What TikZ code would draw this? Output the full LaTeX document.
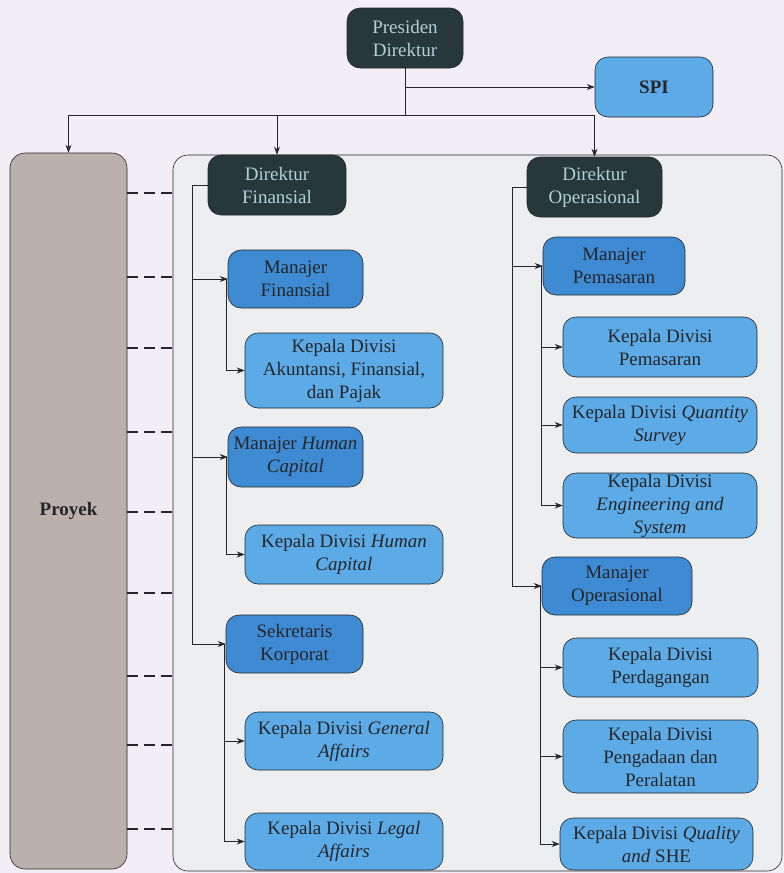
\documentclass[tikz,border=0pt]{standalone}
\usepackage{fontspec}
\setmainfont{Liberation Serif}
\usetikzlibrary{arrows.meta}
\definecolor{bgc}{RGB}{243,238,245}
\definecolor{dark}{RGB}{39,56,59}
\definecolor{darktext}{RGB}{176,208,212}
\definecolor{midblue}{RGB}{62,139,211}
\definecolor{lightblue}{RGB}{92,170,230}
\definecolor{proyekc}{RGB}{186,176,172}
\definecolor{unitc}{RGB}{236,238,240}
\definecolor{ink}{RGB}{38,38,42}

\tikzset{
  box/.style={rounded corners=13pt, draw=ink, line width=0.6pt, align=center, inner sep=0pt, font=\fontsize{19}{23}\selectfont, text=ink},
  topbox/.style={box, fill=dark, text=darktext},
  manbox/.style={box, fill=midblue},
  divbox/.style={box, fill=lightblue},
  wire/.style={draw=ink, line width=0.7pt},
  arr/.style={wire, -{Stealth[length=8pt,width=6pt]}},
  dash link/.style={draw=ink, line width=2.6pt, dash pattern=on 11pt off 6pt},
}

\begin{document}
\begin{tikzpicture}
\fill [bgc] (0pt,0pt) rectangle (784pt,-873pt);
\useasboundingbox (0pt,0pt) rectangle (784pt,-873pt);
% background blocks
\node (unit) [rounded corners=15pt, draw=ink, line width=0.6pt, fill=unitc, minimum width=609pt, minimum height=716pt] at (477.5pt, -513pt) {};
\node (proyek) [box, rounded corners=15pt, fill=proyekc, minimum width=117pt, minimum height=716pt, font=\fontsize{19}{23}\selectfont\bfseries] at (68.5pt, -511pt) {Proyek};
% top level
\node (pd) [topbox, minimum width=116pt, minimum height=60pt] at (405pt, -38pt) {Presiden\\Direktur};
\node (spi) [divbox, minimum width=118pt, minimum height=60pt, font=\fontsize{19}{23}\selectfont\bfseries] at (654pt, -87pt) {SPI};
\node (df) [topbox, minimum width=138pt, minimum height=60pt] at (277pt, -185pt) {Direktur\\Finansial};
\node (do) [topbox, minimum width=135pt, minimum height=60pt] at (594.5pt, -187pt) {Direktur\\Operasional};
% finansial
\node (mf) [manbox, minimum width=135pt, minimum height=58pt] at (295.5pt, -279pt) {Manajer\\Finansial};
\node (kda) [divbox, minimum width=198pt, minimum height=75pt] at (344pt, -370.5pt) {Kepala Divisi\\Akuntansi, Finansial,\\dan Pajak};
\node (mhc) [manbox, minimum width=135pt, minimum height=60pt] at (295.5pt, -457pt) {Manajer \textit{Human}\\\textit{Capital}};
\node (kdhc) [divbox, minimum width=198pt, minimum height=59pt] at (344pt, -554.5pt) {Kepala Divisi \textit{Human}\\\textit{Capital}};
\node (sk) [manbox, minimum width=137pt, minimum height=58pt] at (294.5pt, -644pt) {Sekretaris\\Korporat};
\node (kdga) [divbox, minimum width=198pt, minimum height=58pt] at (344pt, -741pt) {Kepala Divisi \textit{General}\\\textit{Affairs}};
\node (kdla) [divbox, minimum width=198pt, minimum height=57pt] at (344pt, -841.5pt) {Kepala Divisi \textit{Legal}\\\textit{Affairs}};
% operasional
\node (mp) [manbox, minimum width=142pt, minimum height=58pt] at (614pt, -266pt) {Manajer\\Pemasaran};
\node (kdp) [divbox, minimum width=194pt, minimum height=60pt] at (660pt, -347pt) {Kepala Divisi\\Pemasaran};
\node (kdqs) [divbox, minimum width=194pt, minimum height=56pt] at (660pt, -425pt) {Kepala Divisi \textit{Quantity}\\\textit{Survey}};
\node (kdes) [divbox, minimum width=194pt, minimum height=65pt] at (660pt, -505.5pt) {Kepala Divisi\\\textit{Engineering and}\\\textit{System}};
\node (mo) [manbox, minimum width=150pt, minimum height=58pt] at (617pt, -586pt) {Manajer\\Operasional};
\node (kdpd) [divbox, minimum width=195pt, minimum height=59pt] at (660.5pt, -667.5pt) {Kepala Divisi\\Perdagangan};
\node (kdpp) [divbox, minimum width=195pt, minimum height=73pt] at (660.5pt, -756.5pt) {Kepala Divisi\\Pengadaan dan\\Peralatan};
\node (kdqm) [divbox, minimum width=193pt, minimum height=52pt] at (656.5pt, -844pt) {Kepala Divisi \textit{Quality}\\\textit{and} SHE};
% connectors
\coordinate (bus) at (405pt, -115pt);
\draw [wire] (pd.south) to (bus);
\draw [arr] (pd.south |- spi.west) to (spi.west);
\draw [arr] (bus) -| (proyek.north);
\draw [arr] (bus) -| (df.north);
\draw [arr] (bus) -| (do.north);
\foreach \y in {193,277,348,432,512,593,676,745,829}
  \draw [dash link] (proyek.east |- 0,-\y pt) to (unit.west |- 0,-\y pt);
\draw [arr] (df.west) -- ++(-15pt,0) |- (mf.west);
\draw [arr] (df.west) -- ++(-15pt,0) |- (mhc.west);
\draw [arr] (df.west) -- ++(-15pt,0) |- (sk.west);
\draw [arr] ([xshift=-1pt]mf.west) |- (kda.west);
\draw [arr] ([xshift=-1pt]mhc.west) |- (kdhc.west);
\draw [arr] ([xshift=-1pt]sk.west) |- (kdga.west);
\draw [arr] ([xshift=-1pt]sk.west) |- (kdla.west);
\draw [arr] (do.west) -- ++(-14.5pt,0) |- (mp.west);
\draw [arr] (do.west) -- ++(-14.5pt,0) |- (mo.west);
\draw [arr] ([xshift=-1pt]mp.west) |- (kdp.west);
\draw [arr] ([xshift=-1pt]mp.west) |- (kdqs.west);
\draw [arr] ([xshift=-1pt]mp.west) |- (kdes.west);
\draw [arr] ([xshift=-1pt]mo.west) |- (kdpd.west);
\draw [arr] ([xshift=-1pt]mo.west) |- (kdpp.west);
\draw [arr] ([xshift=-1pt]mo.west) |- (kdqm.west);
\end{tikzpicture}
\end{document}
